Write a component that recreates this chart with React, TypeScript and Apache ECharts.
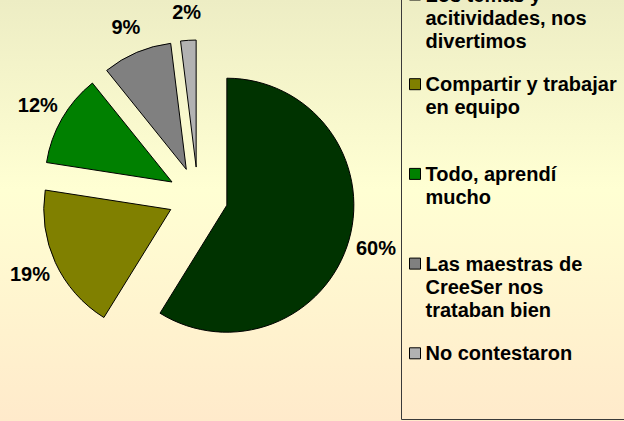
import React, { useEffect, useRef } from "react";
import * as echarts from "echarts";

const categories = [
  "Los temas y acitividades, nos divertimos",
  "Compartir y trabajar en equipo",
  "Todo, aprendí mucho",
  "Las maestras de CreeSer nos trataban bien",
  "No contestaron",
];
const legendLines = [
  ["Los temas y", "acitividades, nos", "divertimos"],
  ["Compartir y trabajar", "en equipo"],
  ["Todo, aprendí", "mucho"],
  ["Las maestras de", "CreeSer nos", "trataban bien"],
  ["No contestaron"],
];
const values = [60, 19, 12, 9, 2];
const colors = ["#003300", "#808000", "#008000", "#808080", "#B2B2B2"];

const FONT = "'Liberation Sans', Arial, Helvetica, sans-serif";
const CX = 198;
const CY = 197;
const R = 127;
const OFFSET = 30;
const LABEL_GAP = 28;

export default function App() {
  const ref = useRef<HTMLDivElement>(null);
  useEffect(() => {
    if (!ref.current) return;
    const chart = echarts.init(ref.current, undefined, { renderer: "svg" });

    const lineH = 23;
    const markerY0 = -5.5;
    const step = 89.7;
    const legends = categories.map((name, i) => ({
      data: [name],
      orient: "vertical",
      left: 409,
      top: markerY0 + i * step - 2.5 * lineH,
      padding: 0,
      itemGap: 0,
      itemWidth: 11,
      itemHeight: 11,
      icon: "rect",
      selectedMode: false,
      itemStyle: { borderColor: "#000", borderWidth: 1 },
      textStyle: {
        fontSize: 20,
        fontWeight: "bold",
        fontFamily: FONT,
        color: "#000",
        lineHeight: lineH,
      },
      formatter: () => {
        const lines = legendLines[i];
        const pad = 3 - lines.length;
        return "\n\n" + lines.join("\n") + "\n".repeat(pad < 0 ? 0 : pad);
      },
    }));

    chart.setOption({
      animation: false,
      backgroundColor: new echarts.graphic.LinearGradient(0, 0, 0, 1, [
        { offset: 0, color: "#EDEDC4" },
        { offset: 0.45, color: "#FFFFD3" },
        { offset: 1, color: "#FFEACB" },
      ]),
      legend: legends,
      graphic: [
        {
          type: "rect",
          shape: { x: 401.5, y: -10, width: 260, height: 429.5 },
          style: { fill: "none", stroke: "#3a3a3a", lineWidth: 1 },
          silent: true,
        },
      ],
      series: [
        {
          type: "pie",
          center: [CX, CY],
          radius: R,
          startAngle: 90,
          clockwise: true,
          selectedMode: "multiple",
          selectedOffset: OFFSET,
          avoidLabelOverlap: false,
          itemStyle: { borderColor: "#000", borderWidth: 1 },
          select: { itemStyle: { borderColor: "#000", borderWidth: 1 } },
          emphasis: { disabled: true },
          label: {
            show: true,
            position: "outside",
            distanceToLabelLine: 0,
            formatter: (p: any) => p.value + "%",
            fontSize: 20,
            fontWeight: "bold",
            fontFamily: FONT,
            color: "#000",
          },
          labelLine: { show: false, length: LABEL_GAP, length2: 0 },
          labelLayout: () => ({ align: "center", verticalAlign: "middle" }),
          data: categories.map((name, i) => ({
            name,
            value: values[i],
            selected: true,
            itemStyle: { color: colors[i] },
          })),
        },
      ],
    });
    return () => chart.dispose();
  }, []);
  return (
    <div
      ref={ref}
      style={{ position: "fixed", left: 0, top: 0, width: 624, height: 421 }}
    />
  );
}
